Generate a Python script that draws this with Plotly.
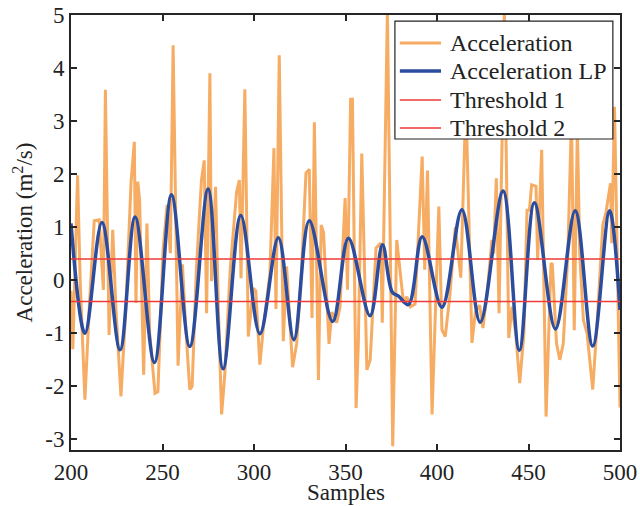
import plotly.graph_objects as go

# ---------------- data ----------------
acc_x = [200, 201, 203.6, 205, 207.6, 210, 212.7, 215.4, 217.7, 218.8, 220.8, 222.8, 224.5, 227.3,
         230, 232.8, 234.6, 235.5, 236.5, 237.5, 239.7, 241.5, 243, 245.9, 247.5, 250.3, 252.5,
         254.3, 255.8, 258.5, 260.9, 262.5, 264.9, 266.2, 268.5, 271.3, 272.8, 274.1, 275.9, 276.8,
         279.0, 280.5, 282.3, 284, 287, 290.5, 292, 292.9, 295.0, 296.9, 299.6, 301, 303.2, 305,
         308.7, 310.9, 312, 313.8, 316, 317.8, 321.1, 323.3, 326, 328.4, 330.2, 331.7, 333, 335.2,
         336.7, 338, 341, 342.5, 345.2, 347, 349.8, 351.1, 352.8, 353.8, 355.8, 357, 358.9, 361.7,
         363.5, 366.7, 369.3, 370.1, 372.9, 375.8, 378, 379.9, 381.7, 383.5, 385.5, 388, 391.9,
         393.3, 394.8, 397.3, 401, 402.7, 404.5, 407, 410, 413, 415.8, 419.1, 421, 423.3, 425.1,
         427.5, 430, 431, 432.4, 433.9, 436.8, 439.2, 441, 443, 445.2, 447.5, 449.2, 450.5, 451.7,
         454.1, 455, 457.2, 459.6, 462.3, 463, 465.3, 467.1, 469, 471.5, 473.5, 475, 476.7, 478,
         480, 482, 485.1, 487.5, 490.6, 492.4, 494.8, 495.5, 497, 500]
acc_y = [-0.2, -1.3, 1.98, 0.0, -2.25, -0.5, 1.12, 1.14, -0.18, 3.59, -1.03, 0.95, -0.5, -2.19,
         -0.5, 1.83, 2.61, -0.43, 1.86, 1.5, -1.78, 1.07, -1.0, -2.13, -2.1, 0.57, 1.42,
         0.51, 4.43, -1.61, 0.30, -0.8, -2.06, -2.0, 0.2, 1.89, 2.26, -0.62, 3.90, -0.02,
         1.76, -0.5, -2.53, -1.8, 0.2, 1.67, 1.89, 0.04, 3.60, -1.06, -0.15, -0.2, -1.59, -0.93,
         0.13, 2.49, -0.54, 4.24, -1.15, 0.26, -1.64, -1.2, 0.2, 2.02, 2.09, -0.71, 2.98, -1.88,
         1.04, 0.9, -1.2, -0.6, -0.8, -0.5, 1.55, -0.18, 3.41, 3.41, -2.41, -1.2, 2.39, -1.69,
         -1.5, 0.61, 0.7, -0.80, 5.1, -3.13, 0.76, 0.13, -0.43, -0.31, -0.5, -0.45, 2.33,
         0.2, 2.07, -2.53, 1.39, -0.93, -1.06, -0.3, 1.0, 0.05, 3.4, -1.18, -0.6, -0.47, -0.9,
         -0.2, 0.76, 0.5, 1.92, -0.62, 5.05, -1.09, -0.5, -1.0, -1.94, -1.0, 1.32, 1.32, 1.80,
         1.77, 0.38, 2.46, -2.57, 0.32, 0.3, -1.19, -1.5, -1.2, 0.5, 3.1, -0.94, 2.9, 0.5,
         -0.75, -1.0, -2.06, -0.8, 1.04, 1.29, 1.83, 0.7, 3.27, -2.4]

lp_x = [200, 207.6, 216.9, 226.8, 235, 245.6, 254.9, 264.9, 274.9, 283.1, 292.8, 303.2, 313.3,
        321.8, 330.2, 343, 351.6, 363.4, 370.2, 375.5, 379, 384.4, 391.9, 402.7, 413.6, 423.6,
        436.1, 445, 453.2, 464.7, 475.5, 485.1, 494.3, 500]
lp_y = [1.07, -1.0, 1.09, -1.31, 1.19, -1.55, 1.61, -1.25, 1.72, -1.67, 1.22, -1.01, 0.80,
        -1.12, 1.12, -0.78, 0.79, -0.67, 0.67, -0.22, -0.30, -0.46, 0.82, -0.51, 1.33, -0.79,
        1.68, -1.32, 1.46, -0.92, 1.31, -1.24, 1.31, -0.56]

threshold_1 = 0.4
threshold_2 = -0.4
x_span = [200, 500]

x_ticks = [200, 250, 300, 350, 400, 450, 500]
y_ticks = [-3, -2, -1, 0, 1, 2, 3, 4, 5]
y_ticktext = ["-3", "-2", "-1", "0", "1", "2", "3", "4", "5"]

series_names = ["Acceleration", "Acceleration LP", "Threshold 1", "Threshold 2"]
series_colors = ["#F6AC62", "#2A4DA0", "#EE3A3A", "#EE3A3A"]
series_widths = [3, 3.5, 1.5, 1.5]

# ---------------- figure ----------------
FONT = "Liberation Serif, Times New Roman, serif"
TXT = "#222222"
fig = go.Figure()
fig.add_trace(go.Scatter(x=acc_x, y=acc_y, mode="lines", name=series_names[0],
                         line=dict(color=series_colors[0], width=series_widths[0])))
fig.add_trace(go.Scatter(x=lp_x, y=lp_y, mode="lines", name=series_names[1],
                         line=dict(color=series_colors[1], width=series_widths[1],
                                   shape="spline", smoothing=1.0)))
fig.add_trace(go.Scatter(x=x_span, y=[threshold_1] * 2, mode="lines", name=series_names[2],
                         line=dict(color=series_colors[2], width=series_widths[2])))
fig.add_trace(go.Scatter(x=x_span, y=[threshold_2] * 2, mode="lines", name=series_names[3],
                         line=dict(color=series_colors[3], width=series_widths[3])))

axis_common = dict(showline=True, linecolor="#262626", linewidth=1.8, mirror="ticks",
                   ticks="inside", ticklen=6, tickwidth=1.5, tickcolor="#262626",
                   showgrid=False, zeroline=False, automargin=False,
                   tickfont=dict(family=FONT, size=23, color=TXT))

# MATLAB-style legend box (drawn as a boxed key in the upper right)
leg_x0, leg_x1, leg_y0, leg_y1 = 0.590, 0.987, 0.715, 0.986
line_x0, line_x1, text_x = 0.599, 0.674, 0.687
entry_y = [0.9356, 0.8713, 0.8046, 0.7402]

shapes = [dict(type="rect", xref="paper", yref="paper", x0=leg_x0, x1=leg_x1, y0=leg_y0, y1=leg_y1,
               fillcolor="white", line=dict(color=TXT, width=1.2), layer="above")]
annotations = []
for name, col, w, ey in zip(series_names, series_colors, series_widths, entry_y):
    shapes.append(dict(type="line", xref="paper", yref="paper", x0=line_x0, x1=line_x1, y0=ey, y1=ey,
                       line=dict(color=col, width=w), layer="above"))
    annotations.append(dict(xref="paper", yref="paper", x=text_x, y=ey, text=name, showarrow=False,
                            xanchor="left", yanchor="middle",
                            font=dict(family=FONT, size=24, color=TXT)))

# x-axis title placed just under the tick labels
annotations.append(dict(xref="paper", yref="paper", x=0.5, y=-0.1287, text="Samples",
                        showarrow=False, xanchor="center", yanchor="bottom", borderpad=0,
                        font=dict(family=FONT, size=23, color=TXT)))

fig.update_layout(
    width=640, height=506,
    margin=dict(l=71, r=20, t=15, b=56),
    paper_bgcolor="white", plot_bgcolor="white",
    font=dict(family=FONT, size=23, color=TXT),
    xaxis=dict(range=[200, 500], tickvals=x_ticks, ticklabelstandoff=0, **axis_common),
    yaxis=dict(range=[-3.2, 5], tickvals=y_ticks, ticktext=y_ticktext,
               title=dict(text="Acceleration (m<sup>2</sup>/s)", font=dict(family=FONT, size=23),
                          standoff=6),
               **axis_common),
    showlegend=False,
    shapes=shapes,
    annotations=annotations,
)

fig.write_html("out.html")
